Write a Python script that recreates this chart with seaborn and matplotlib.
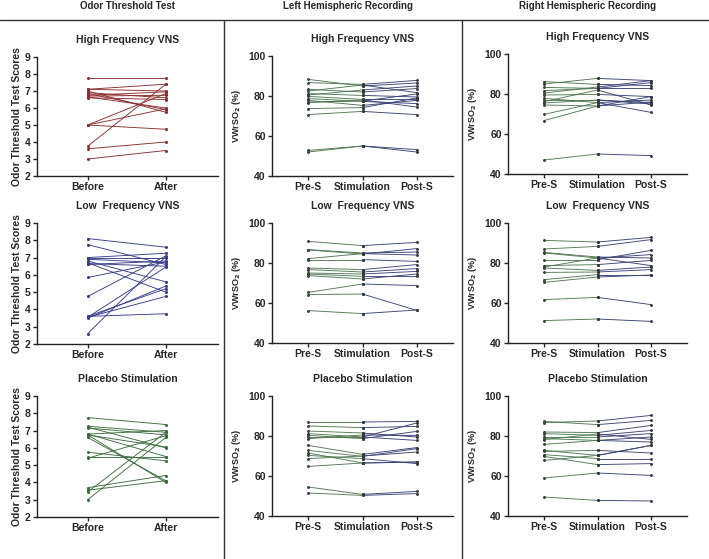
import pandas as pd
import seaborn as sns
import matplotlib.pyplot as plt
from matplotlib.lines import Line2D

# ---- data ----
odor_phases = ["Before", "After"]
hemi_phases = ["Pre-S", "Stimulation", "Post-S"]

# Odor threshold test scores (before, after)
odor_hf_before = [7.75, 3.0, 3.6, 3.75, 5.0, 5.0, 5.0, 7.1, 7.0, 6.85, 6.7, 7.1, 6.6, 6.75, 6.9, 6.65]
odor_hf_after = [7.75, 3.5, 4.0, 7.4, 4.75, 5.95, 6.85, 7.0, 5.75, 5.9, 6.75, 7.4, 6.5, 6.95, 6.6, 6.0]

odor_lf_before = [8.1, 7.75, 7.0, 7.0, 6.9, 6.8, 6.7, 6.6, 6.65, 5.85, 4.75, 3.6, 3.55, 3.6, 3.5, 3.55, 2.6]
odor_lf_after = [7.6, 6.6, 7.25, 7.0, 6.7, 5.6, 5.0, 6.8, 6.5, 6.75, 7.1, 3.75, 4.75, 5.2, 5.35, 6.45, 7.05]

odor_pl_before = [7.75, 7.25, 7.15, 6.8, 6.75, 6.8, 6.75, 6.6, 5.75, 5.5, 5.4, 3.7, 3.55, 3.45, 3.0, 7.2]
odor_pl_after = [7.35, 6.9, 6.75, 7.0, 6.05, 5.5, 4.0, 4.1, 5.25, 5.5, 6.7, 4.4, 4.1, 6.9, 6.6, 6.0]

# VWrSO2 (%) left hemisphere: pre, stimulation, post
left_hf_pre = [88.3, 86.7, 83.3, 82.5, 81.2, 79.8, 78.7, 77.8, 76.7, 73.7, 70.7, 80.5, 77.0, 52.8, 52.0]
left_hf_stim = [85.0, 85.8, 82.0, 85.5, 80.3, 78.3, 77.3, 75.3, 78.0, 74.2, 72.3, 83.0, 77.5, 55.0, 55.0]
left_hf_post = [86.5, 87.8, 83.7, 81.7, 79.5, 78.3, 76.2, 77.8, 74.5, 79.0, 70.7, 85.0, 81.0, 53.2, 52.0]

left_lf_pre = [90.8, 86.7, 86.5, 82.2, 81.7, 77.5, 76.7, 75.0, 74.5, 73.7, 65.3, 64.2, 56.2]
left_lf_stim = [88.7, 85.0, 84.5, 84.7, 81.7, 76.7, 75.5, 74.5, 73.3, 72.0, 69.5, 64.5, 54.7]
left_lf_post = [90.3, 85.5, 87.2, 84.0, 80.8, 79.2, 77.2, 75.8, 73.3, 74.5, 68.7, 56.3, 56.5]

left_pl_pre = [87.0, 85.0, 82.5, 81.2, 80.3, 79.5, 78.7, 75.3, 72.8, 71.5, 70.3, 68.7, 64.8, 54.5, 51.5]
left_pl_stim = [87.0, 84.2, 81.5, 79.5, 78.7, 79.5, 80.5, 70.8, 69.8, 66.5, 68.7, 70.0, 66.5, 50.8, 50.3]
left_pl_post = [87.3, 84.8, 79.5, 86.5, 82.3, 77.8, 80.3, 74.2, 73.7, 67.0, 66.2, 72.0, 67.0, 52.3, 51.2]

# VWrSO2 (%) right hemisphere
right_hf_pre = [86.2, 85.0, 83.3, 81.7, 79.5, 77.8, 77.0, 76.2, 74.5, 69.8, 66.7, 80.5, 75.5, 47.0]
right_hf_stim = [84.8, 87.8, 82.8, 82.8, 79.8, 75.7, 77.0, 82.0, 74.0, 75.7, 74.0, 83.5, 77.0, 50.0]
right_hf_post = [84.2, 86.7, 85.7, 82.8, 78.7, 77.0, 75.7, 74.5, 78.7, 70.8, 76.0, 86.7, 75.0, 49.2]

right_lf_pre = [91.3, 87.0, 85.3, 85.0, 81.7, 78.7, 78.0, 77.5, 75.3, 71.7, 70.3, 61.7, 51.2]
right_lf_stim = [90.5, 88.3, 83.0, 82.5, 81.7, 79.2, 82.5, 76.3, 75.5, 74.2, 73.0, 62.8, 52.0]
right_lf_post = [92.8, 91.7, 82.5, 84.2, 86.3, 81.3, 78.7, 78.0, 76.7, 74.2, 74.0, 59.2, 50.8]

right_pl_pre = [87.3, 86.7, 82.0, 81.2, 79.5, 78.7, 78.2, 75.8, 72.8, 72.3, 70.7, 69.8, 67.8, 59.0, 49.5]
right_pl_stim = [85.7, 87.5, 81.7, 80.3, 79.5, 77.8, 81.0, 77.8, 70.3, 72.8, 68.7, 65.7, 70.3, 61.5, 47.8]
right_pl_post = [87.8, 90.3, 85.3, 82.8, 81.2, 79.5, 78.3, 77.0, 75.3, 71.5, 68.7, 66.2, 75.3, 60.3, 47.5]

# ---- styling ----
sns.set_style("ticks")
plt.rcParams['font.family'] = ['Liberation Sans', 'DejaVu Sans']
plt.rcParams['font.weight'] = 'bold'
plt.rcParams['axes.labelweight'] = 'bold'

W, H = 709, 559
fig = plt.figure(figsize=(W / 100, H / 100), dpi=100)


def rect(l, r, t, b):
    return [l / W, 1 - b / H, (r - l) / W, (b - t) / H]


def style_axes(ax, title, phases, xlim):
    sns.despine(ax=ax)
    for s in ["left", "bottom"]:
        ax.spines[s].set_linewidth(1.0)
        ax.spines[s].set_color("#222222")
    ax.set_xticks(range(len(phases)))
    ax.set_xticklabels(phases)
    ax.set_xlim(*xlim)
    ax.tick_params(direction="out", length=3, width=1, labelsize=7.5, pad=1.5)
    ax.set_xlabel("")
    ax.set_title(title, fontsize=7.5, fontweight="bold", pad=10)


def odor_panel(box, title, before, after, color):
    ax = fig.add_axes(box)
    n = len(before)
    df = pd.DataFrame({
        "subject": list(range(n)) * 2,
        "phase": ["Before"] * n + ["After"] * n,
        "score": before + after,
    })
    df["pos"] = df["phase"].map({p: i for i, p in enumerate(odor_phases)})
    sns.lineplot(data=df, x="pos", y="score", units="subject", estimator=None,
                 color=color, lw=0.65, marker="o", ms=1.4, mec=color, ax=ax)
    style_axes(ax, title, odor_phases, (-0.65, 1.67))
    ax.set_ylim(2, 9)
    ax.set_yticks(range(2, 10))
    ax.set_ylabel("Odor Threshold Test Scores", fontsize=7.5, labelpad=2)
    return ax


def hemi_panel(box, title, pre, stim, post):
    ax = fig.add_axes(box)
    n = len(pre)
    seg1 = pd.DataFrame({
        "subject": list(range(n)) * 2,
        "phase": ["Pre-S"] * n + ["Stimulation"] * n,
        "value": pre + stim,
    })
    seg2 = pd.DataFrame({
        "subject": list(range(n)) * 2,
        "phase": ["Stimulation"] * n + ["Post-S"] * n,
        "value": stim + post,
    })
    pos = {p: i for i, p in enumerate(hemi_phases)}
    seg1["pos"] = seg1["phase"].map(pos)
    seg2["pos"] = seg2["phase"].map(pos)
    sns.lineplot(data=seg1, x="pos", y="value", units="subject", estimator=None,
                 color="#4f7a52", lw=0.65, marker="o", ms=1.3, mec="#333333", ax=ax)
    sns.lineplot(data=seg2, x="pos", y="value", units="subject", estimator=None,
                 color="#3b4478", lw=0.65, marker="o", ms=1.3, mec="#333333", ax=ax)
    style_axes(ax, title, hemi_phases, (-0.67, 2.67))
    ax.set_ylim(40, 100)
    ax.set_yticks([40, 60, 80, 100])
    ax.set_ylabel("VWrSO$_2$ (%)", fontsize=6.5, labelpad=4)
    return ax


# column 1: odor threshold
odor_panel(rect(37, 218, 57, 176), "High Frequency VNS", odor_hf_before, odor_hf_after, "#8b2e2e")
odor_panel(rect(37, 218, 223, 344), "Low  Frequency VNS", odor_lf_before, odor_lf_after, "#353c8a")
odor_panel(rect(37, 218, 396, 517), "Placebo Stimulation", odor_pl_before, odor_pl_after, "#3b6e3b")

# column 2: left hemisphere
hemi_panel(rect(272, 453, 56, 176), "High Frequency VNS", left_hf_pre, left_hf_stim, left_hf_post)
hemi_panel(rect(272, 453, 223, 343), "Low  Frequency VNS", left_lf_pre, left_lf_stim, left_lf_post)
hemi_panel(rect(272, 453, 396, 516), "Placebo Stimulation", left_pl_pre, left_pl_stim, left_pl_post)

# column 3: right hemisphere
hemi_panel(rect(508, 687, 54, 174), "High Frequency VNS", right_hf_pre, right_hf_stim, right_hf_post)
hemi_panel(rect(508, 687, 223, 343), "Low  Frequency VNS", right_lf_pre, right_lf_stim, right_lf_post)
hemi_panel(rect(508, 687, 396, 516), "Placebo Stimulation", right_pl_pre, right_pl_stim, right_pl_post)

# column headers and separators
headers = ["Odor Threshold Test", "Left Hemispheric Recording", "Right Hemispheric Recording"]
header_x = [127, 348, 588]
for txt, hx in zip(headers, header_x):
    fig.text(hx / W, 1 - 6 / H, txt, ha="center", va="center", fontsize=7, fontweight="bold")

fig.add_artist(Line2D([0, 1], [1 - 20 / H] * 2, color="#333333", lw=1))
for vx in [224, 462]:
    fig.add_artist(Line2D([vx / W] * 2, [0, 1 - 20 / H], color="#333333", lw=1))

fig.savefig("out.png", dpi=100)
